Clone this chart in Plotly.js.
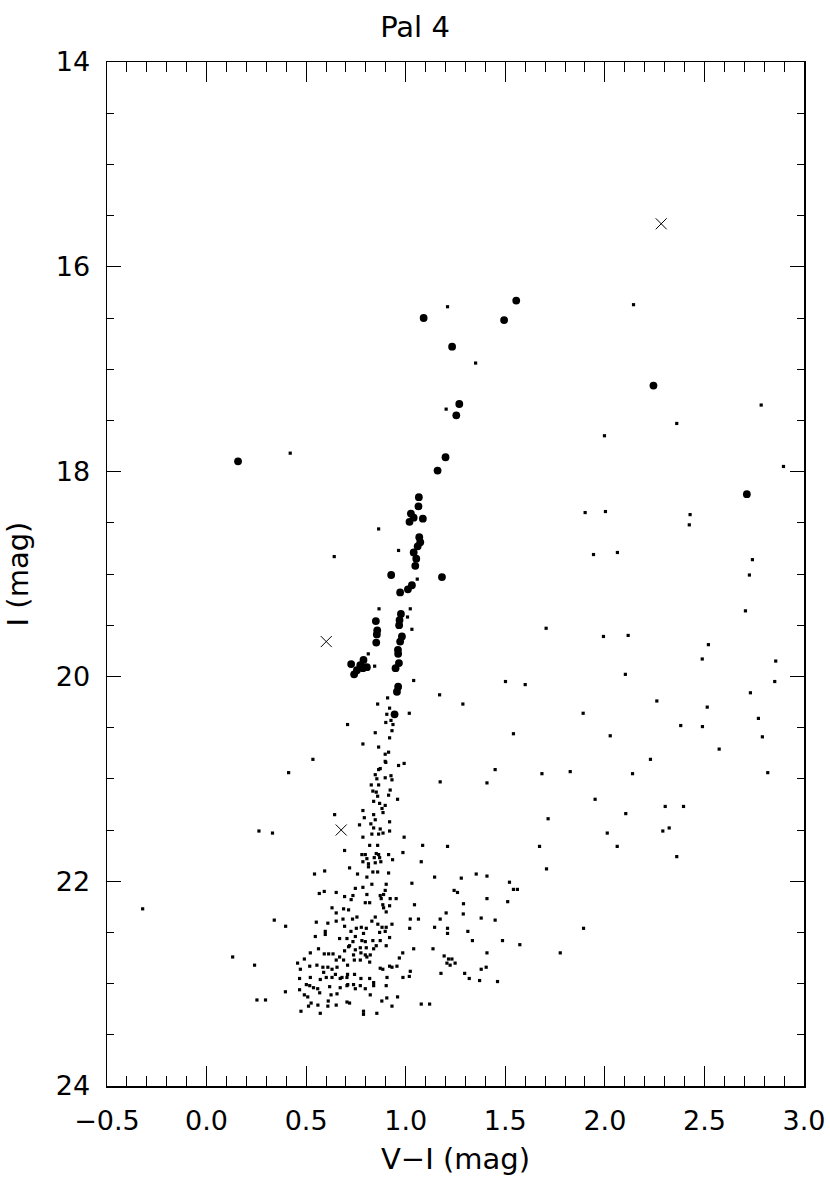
<!DOCTYPE html>
<html>
<head>
<meta charset="utf-8">
<script src="https://cdn.plot.ly/plotly-3.0.1.min.js"></script>
<style>html,body{margin:0;padding:0;background:#fff;}#chart{width:830px;height:1185px;}</style>
</head>
<body>
<div id="chart"></div>
<script>
// Bright stars (large filled symbols): V-I colour and I magnitude
const bigV = [1.09,1.233,1.269,1.254,0.158,1.200,1.160,1.066,1.064,1.026,1.04,1.019,1.086,1.068,1.073,1.06,1.04,1.053,1.048,1.182,0.927,1.031,1.011,0.972,0.976,0.969,0.850,0.967,0.857,0.855,0.981,0.972,0.852,0.961,0.962,0.726,0.788,0.772,0.805,0.755,0.741,0.785,0.966,0.949,0.962,0.956,0.944,1.555,1.494,2.244,2.713];
const bigI = [16.50,16.78,17.34,17.45,17.90,17.86,17.99,18.25,18.34,18.41,18.45,18.49,18.46,18.64,18.69,18.73,18.79,18.85,18.92,19.03,19.01,19.11,19.15,19.18,19.39,19.45,19.46,19.50,19.55,19.59,19.61,19.66,19.67,19.74,19.78,19.88,19.84,19.89,19.91,19.94,19.98,19.92,19.87,19.92,20.10,20.15,20.37,16.33,16.52,17.16,18.22];

// Faint stars (small dots)
const smallV = [
1.21,1.351,1.203,0.42,0.864,0.964,0.641,1.058,0.866,1.023,1.009,1.031,0.812,0.844,1.04,0.909,1.17,1.287,0.859,0.919,1.018,0.905,
2.144,2.785,2.361,1.998,2.897,
1.901,2.003,2.428,2.424,1.943,2.063,2.741,2.726,2.706,1.705,1.993,2.117,2.52,2.489,2.858,1.501,1.60,2.103,2.853,2.731,2.261,2.514,1.891,2.771,2.381,2.49,1.541,2.027,2.791,2.574,2.229,1.449,1.684,1.826,2.139,2.818,1.408,
1.951,2.303,2.395,2.105,1.715,2.012,2.291,2.323,2.062,2.361,1.672,1.707,1.408,1.521,1.541,1.561,1.408,1.512,1.379,1.449,1.893,1.486,1.573,1.408,1.776,1.404,1.379,1.461,
1.21,1.354,1.279,1.243,1.26,1.29,1.203,1.289,1.173,1.21,1.21,1.312,1.335,1.193,1.215,1.232,1.207,1.223,1.248,1.177,1.296,1.319,1.371,
1.078,1.145,1.031,1.044,1.023,1.064,1.145,1.02,1.04,1.137,0.985,0.968,1.023,1.018,0.986,0.959,1.078,1.12,0.931,0.88,0.905,0.855,0.788,0.788,0.718,
0.926,0.90,0.936,0.708,0.847,0.931,0.919,0.785,0.864,0.914,0.897,0.534,0.897,0.90,0.964,0.992,0.872,0.864,0.412,0.847,0.926,0.897,0.931,0.855,1.173,0.827,0.864,0.922,0.835,0.852,0.859,0.914,0.959,0.839,0.869,0.897,0.881,0.785,0.886,0.643,0.792,0.839,0.847,0.919,0.768,0.825,0.839,0.872,0.919,0.830,0.864,0.886,0.785,0.992,0.331,0.819,0.859,1.085,0.693,0.986,0.780,0.797,0.852,0.864,0.914,0.805,0.842,0.869,0.785,0.813,0.847,0.875,0.813,0.934,0.718,0.593,0.542,0.758,0.805,0.835,0.859,0.914,
0.34,0.397,0.131,0.241,0.253,0.296,0.396,0.566,0.591,0.651,0.693,0.630,0.651,0.688,0.713,0.551,0.609,0.651,0.685,0.693,0.546,0.596,0.596,0.668,0.705,0.713,0.562,0.693,0.521,0.591,0.613,0.635,0.668,0.651,0.688,0.457,0.491,0.554,0.584,0.518,0.609,0.63,0.655,0.708,0.471,0.588,0.647,0.68,0.708,0.467,0.521,0.571,0.601,0.63,0.501,0.518,0.537,0.558,0.618,0.671,0.705,0.467,0.491,0.508,0.568,0.625,0.655,0.705,0.512,0.559,0.609,0.651,0.474,0.571,0.611,0.525,
0.872,0.735,0.747,0.785,0.830,0.902,0.897,0.805,0.889,0.726,0.877,0.922,0.952,0.797,0.819,0.885,0.919,0.889,0.902,0.755,0.847,0.733,0.830,0.931,0.86,0.881,0.902,0.777,0.802,0.752,0.725,0.897,0.869,0.919,0.788,0.747,0.735,0.78,0.797,0.835,0.872,0.852,0.902,0.718,0.747,0.772,0.802,0.839,0.738,0.775,0.797,0.805,0.822,0.742,0.772,0.819,0.872,0.885,0.919,0.931,0.956,0.906,0.819,0.775,0.743,0.705,0.671,0.839,0.839,0.772,0.797,0.738,0.747,0.709,0.902,0.822,
0.263,-0.321];
const smallI = [
16.39,16.94,17.39,17.82,18.56,18.77,18.83,19.05,19.34,19.34,19.42,19.54,19.78,19.90,20.04,20.21,20.18,20.27,20.27,20.31,20.36,20.37,
16.37,17.35,17.53,17.65,17.95,
18.40,18.39,18.42,18.52,18.81,18.79,18.86,19.01,19.36,19.53,19.61,19.60,19.69,19.83,19.85,20.05,20.08,19.98,20.05,20.16,20.24,20.30,20.36,20.41,20.48,20.49,20.56,20.58,20.59,20.71,20.81,20.91,20.95,20.93,20.95,20.94,21.04,
21.20,21.27,21.27,21.34,21.39,21.53,21.51,21.48,21.66,21.76,21.66,21.88,21.95,22.01,22.08,22.08,22.17,22.20,22.36,22.38,22.46,22.58,22.62,22.70,22.70,22.84,22.86,22.98,
21.66,21.93,21.97,22.09,22.11,22.22,22.31,22.32,22.37,22.46,22.51,22.49,22.58,22.73,22.76,22.76,22.80,22.82,22.80,22.90,22.90,22.95,22.97,
21.81,21.96,22.02,22.23,22.37,22.37,22.45,22.46,22.66,22.66,22.70,22.75,22.88,22.93,22.94,23.13,23.20,23.20,23.22,23.17,23.14,23.29,23.27,23.30,23.19,
20.43,20.45,20.47,20.47,20.55,20.53,20.60,20.66,20.69,20.74,20.76,20.81,20.83,20.84,20.87,20.85,20.90,20.91,20.94,20.96,20.97,20.99,21.01,21.00,21.03,21.06,21.06,21.11,21.12,21.13,21.17,21.16,21.20,21.22,21.24,21.26,21.29,21.31,21.33,21.35,21.38,21.35,21.40,21.42,21.45,21.44,21.48,21.49,21.51,21.54,21.54,21.53,21.57,21.57,21.53,21.65,21.65,21.65,21.70,21.72,21.74,21.74,21.73,21.74,21.74,21.78,21.77,21.77,21.81,21.83,21.82,21.81,21.86,21.79,21.87,21.90,21.93,21.93,21.96,21.91,21.91,21.92,
22.38,22.44,22.74,22.82,23.16,23.16,23.08,22.12,22.10,22.11,22.15,22.26,22.31,22.27,22.28,22.40,22.41,22.39,22.37,22.44,22.54,22.49,22.52,22.56,22.56,22.64,22.66,22.68,22.70,22.71,22.71,22.71,22.74,22.77,22.77,22.80,22.76,22.82,22.84,22.83,22.84,22.86,22.84,22.82,22.86,22.89,22.91,22.94,22.91,22.95,22.94,22.96,22.94,22.94,23.01,23.02,23.04,23.05,23.03,23.04,23.02,23.06,23.11,23.13,23.09,23.11,23.10,23.18,23.22,23.21,23.22,23.21,23.27,23.29,23.17,23.19,
22.14,22.14,22.07,22.06,22.03,22.03,22.09,22.13,22.13,22.18,22.17,22.17,22.17,22.21,22.21,22.23,22.24,22.26,22.30,22.35,22.35,22.37,22.39,22.42,22.42,22.45,22.45,22.45,22.46,22.46,22.49,22.49,22.50,22.55,22.51,22.54,22.59,22.58,22.59,22.58,22.58,22.63,22.63,22.63,22.67,22.65,22.65,22.66,22.72,22.70,22.72,22.74,22.72,22.77,22.77,22.79,22.85,22.86,22.83,22.84,22.83,22.94,22.95,22.95,22.91,22.94,22.95,22.99,23.02,23.02,23.05,23.01,23.05,23.01,23.02,23.11,
21.51,22.27];

// Stars marked with crosses
const crossV = [2.283, 0.601, 0.676];
const crossI = [15.58, 19.66, 21.50];

const xTickVals = [-0.5,0.0,0.5,1.0,1.5,2.0,2.5,3.0];
const xTickText = ['\u22120.5','0.0','0.5','1.0','1.5','2.0','2.5','3.0'];
const yTickVals = [14,16,18,20,22,24];

const FONT = 'DejaVu Sans, Liberation Sans, sans-serif';

const traces = [
  {type:'scatter', mode:'markers', x: smallV, y: smallI,
   marker:{symbol:'square', size:3.2, color:'#000', line:{width:0}}, hoverinfo:'x+y'},
  {type:'scatter', mode:'markers', x: bigV, y: bigI,
   marker:{symbol:'circle', size:7.8, color:'#000', line:{width:0}}, hoverinfo:'x+y'},
  {type:'scatter', mode:'markers', x: crossV, y: crossI,
   marker:{symbol:'x-thin-open', size:11, color:'#000', line:{width:1, color:'#000'}}, hoverinfo:'x+y'}
];

const axisCommon = {
  showgrid:false, zeroline:false, showline:true, linecolor:'#000', linewidth:1.5,
  mirror:'ticks', ticks:'inside', tickcolor:'#000', tickwidth:1,
  tickfont:{family:FONT, size:27, color:'#000'}
};

const layout = {
  width:830, height:1185,
  margin:{l:107, r:26, t:62, b:99, pad:0},
  paper_bgcolor:'#fff', plot_bgcolor:'#fff',
  showlegend:false,
  font:{family:FONT, color:'#000'},
  title:{text:'Pal 4', font:{family:FONT, size:29, color:'#000'}, x:0.5, xref:'container', xanchor:'center', y:1-27/1185, yref:'container', yanchor:'middle'},
  xaxis:Object.assign({}, axisCommon, {
    range:[-0.5,3.0], tickmode:'array', tickvals:xTickVals, ticktext:xTickText, ticklen:20,
    minor:{dtick:0.1, tick0:0, ticklen:10, ticks:'inside', tickcolor:'#000', tickwidth:1, showgrid:false},
    ticklabelstandoff:10,
    title:{text:'V\u2212I (mag)', font:{family:FONT, size:29, color:'#000'}, standoff:14}
  }),
  yaxis:Object.assign({}, axisCommon, {
    range:[24,14], tickmode:'array', tickvals:yTickVals, ticklen:14,
    minor:{dtick:0.5, tick0:14, ticklen:7, ticks:'inside', tickcolor:'#000', tickwidth:1, showgrid:false},
    ticklabelstandoff:10,
    title:{text:'I (mag)', font:{family:FONT, size:29, color:'#000'}, standoff:18}
  })
};

Plotly.newPlot('chart', traces, layout, {staticPlot:true, displayModeBar:false});
</script>
</body>
</html>
